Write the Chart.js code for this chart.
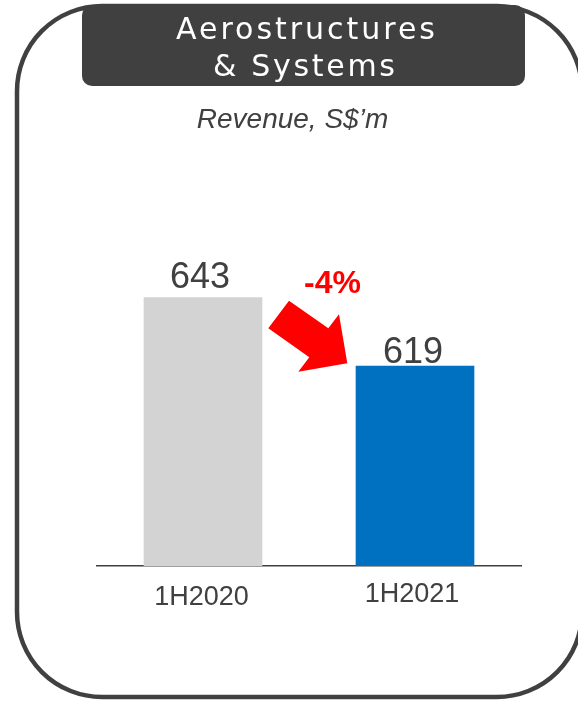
<!DOCTYPE html>
<html>
<head>
<meta charset="utf-8">
<script src="https://cdn.jsdelivr.net/npm/chart.js@4/dist/chart.umd.min.js"></script>
<style>
  html, body { margin: 0; padding: 0; background: #ffffff; }
  #c { display: block; }
</style>
</head>
<body>
<canvas id="c" width="578" height="703"></canvas>
<script>
// ---- data ----
const categories = ["1H2020", "1H2021"];
const revenue = [643, 619];
const barColors = ["#D3D3D3", "#0070C0"];
const titleLines = ["Aerostructures", "& Systems"];
const subtitle = "Revenue, S$\u2019m";
const changeLabel = "-4%";

const INK = "#404040";

function roundRectPath(ctx, x, y, w, h, r) {
  ctx.beginPath();
  ctx.moveTo(x + r, y);
  ctx.lineTo(x + w - r, y);
  ctx.arcTo(x + w, y, x + w, y + r, r);
  ctx.lineTo(x + w, y + h - r);
  ctx.arcTo(x + w, y + h, x + w - r, y + h, r);
  ctx.lineTo(x + r, y + h);
  ctx.arcTo(x, y + h, x, y + h - r, r);
  ctx.lineTo(x, y + r);
  ctx.arcTo(x, y, x + r, y, r);
  ctx.closePath();
}

function spacedText(ctx, text, cx, baseline, targetW) {
  ctx.letterSpacing = "0px";
  const w0 = ctx.measureText(text).width;
  const ls = (targetW - w0) / Math.max(1, text.length - 1);
  ctx.letterSpacing = ls + "px";
  const w = ctx.measureText(text).width - ls;
  ctx.textAlign = "left";
  ctx.fillText(text, cx - w / 2, baseline);
  ctx.letterSpacing = "0px";
}

const decorPlugin = {
  id: "decor",
  beforeDraw(chart) {
    const ctx = chart.ctx;
    ctx.save();
    ctx.fillStyle = "#ffffff";
    ctx.fillRect(0, 0, chart.width, chart.height);
    // outer rounded frame
    roundRectPath(ctx, 17, 6, 565, 691, 85);
    ctx.lineWidth = 4.5;
    ctx.strokeStyle = INK;
    ctx.stroke();
    // title box
    roundRectPath(ctx, 82, 5, 443, 81, 10);
    ctx.fillStyle = INK;
    ctx.fill();
    ctx.fillStyle = "#ffffff";
    ctx.font = '30px "DejaVu Sans", sans-serif';
    ctx.textBaseline = "alphabetic";
    spacedText(ctx, titleLines[0], 305.5, 39, 259);
    spacedText(ctx, titleLines[1], 304, 76, 182);
    // subtitle
    ctx.fillStyle = INK;
    ctx.font = 'italic 28px "Liberation Sans", Arial, sans-serif';
    ctx.textAlign = "center";
    ctx.fillText(subtitle, 292.5, 128);
    ctx.restore();
  },
  afterDatasetsDraw(chart) {
    const ctx = chart.ctx;
    const meta = chart.getDatasetMeta(0);
    const xs = chart.scales.x;
    ctx.save();
    // value labels
    ctx.fillStyle = INK;
    ctx.font = '36px "Liberation Sans", Arial, sans-serif';
    ctx.textAlign = "center";
    ctx.textBaseline = "alphabetic";
    const vdx = [-3, -2], vdy = [-9.5, -3];
    meta.data.forEach((bar, i) => {
      ctx.fillText(String(revenue[i]), bar.x + vdx[i], bar.y + vdy[i]);
    });
    // category labels
    ctx.font = '27px "Liberation Sans", Arial, sans-serif';
    const cdy = [39, 36], cdx = [-1.5, -3];
    categories.forEach((c, i) => {
      ctx.fillText(c, xs.getPixelForTick(i) + cdx[i], chart.chartArea.bottom + cdy[i]);
    });
    // red arrow
    const pts = [[268.3,328.3],[289,300.7],[328.3,328.3],[339,314.3],[347.3,363.3],[298.3,371.7],[309.3,357.3]];
    ctx.beginPath();
    pts.forEach((p, i) => i ? ctx.lineTo(p[0], p[1]) : ctx.moveTo(p[0], p[1]));
    ctx.closePath();
    ctx.fillStyle = "#FF0000";
    ctx.fill();
    ctx.font = 'bold 32px "Liberation Sans", Arial, sans-serif';
    ctx.fillText(changeLabel, 332.5, 293);
    ctx.restore();
  }
};

new Chart(document.getElementById("c"), {
  type: "bar",
  data: {
    labels: categories,
    datasets: [{
      data: revenue,
      backgroundColor: barColors,
      borderWidth: 0,
      barThickness: 118
    }]
  },
  options: {
    responsive: false,
    devicePixelRatio: 1,
    animation: false,
    layout: { padding: { left: 97, right: 57, top: 192, bottom: 137 } },
    plugins: { legend: { display: false }, tooltip: { enabled: false } },
    scales: {
      x: {
        display: true,
        grid: { display: false, drawTicks: false },
        border: { display: true, color: INK, width: 1.5 },
        ticks: { display: false },
        afterFit(scale) { scale.height = 0; }
      },
      y: {
        display: false,
        min: 549,
        max: 680
      }
    }
  },
  plugins: [decorPlugin]
});
</script>
</body>
</html>
